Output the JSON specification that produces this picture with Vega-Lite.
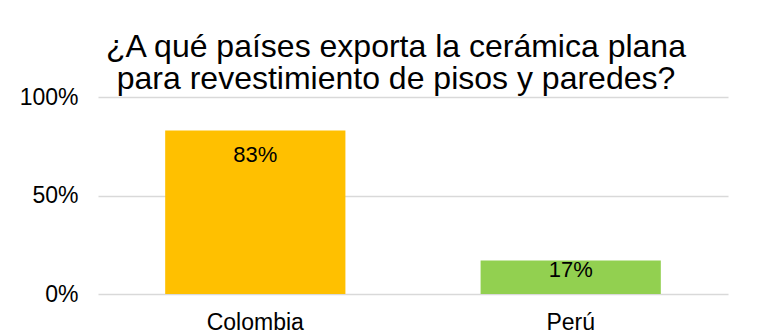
{
  "$schema": "https://vega.github.io/schema/vega-lite/v6.json",
  "width": 630,
  "height": 197,
  "autosize": {"type": "none"},
  "padding": {"left": 98, "top": 97, "right": 31, "bottom": 42},
  "background": "white",
  "title": {
    "text": ["¿A qué países exporta la cerámica plana", "para revestimiento de pisos y paredes?"],
    "font": "Liberation Sans",
    "fontSize": 32,
    "fontWeight": "normal",
    "color": "#000000",
    "anchor": "middle",
    "frame": "group",
    "dx": -17,
    "offset": -10,
    "lineHeight": 32
  },
  "data": {
    "values": [
      {"pais": "Colombia", "valor": 0.83, "etiqueta": "83%"},
      {"pais": "Perú", "valor": 0.17, "etiqueta": "17%"}
    ]
  },
  "encoding": {
    "x": {
      "field": "pais",
      "type": "nominal",
      "sort": null,
      "scale": {"paddingInner": 0.4286, "paddingOuter": 0.213},
      "axis": {
        "title": null,
        "labelAngle": 0,
        "labelFont": "Liberation Sans",
        "labelFontSize": 23,
        "labelColor": "#000000",
        "labelPadding": 17,
        "domain": false,
        "ticks": false
      }
    },
    "y": {
      "field": "valor",
      "type": "quantitative",
      "scale": {"domain": [0, 1]},
      "axis": {
        "title": null,
        "values": [0, 0.5, 1],
        "format": ".0%",
        "labelFont": "Liberation Sans",
        "labelFontSize": 23,
        "labelColor": "#000000",
        "labelPadding": 20,
        "domain": false,
        "ticks": false,
        "gridColor": "#d9d9d9",
        "gridWidth": 1.5
      }
    }
  },
  "layer": [
    {
      "mark": {"type": "bar"},
      "encoding": {
        "color": {
          "field": "pais",
          "type": "nominal",
          "scale": {"domain": ["Colombia", "Perú"], "range": ["#FFC000", "#92D050"]},
          "legend": null
        }
      }
    },
    {
      "transform": [{"filter": "datum.pais == 'Colombia'"}],
      "mark": {"type": "text", "baseline": "top", "dy": 15, "font": "Liberation Sans", "fontSize": 22, "color": "#000000"},
      "encoding": {"text": {"field": "etiqueta"}}
    },
    {
      "transform": [{"filter": "datum.pais == 'Perú'"}],
      "mark": {"type": "text", "baseline": "top", "dy": -1, "font": "Liberation Sans", "fontSize": 22, "color": "#000000"},
      "encoding": {"text": {"field": "etiqueta"}}
    }
  ],
  "config": {"view": {"stroke": null}}
}
